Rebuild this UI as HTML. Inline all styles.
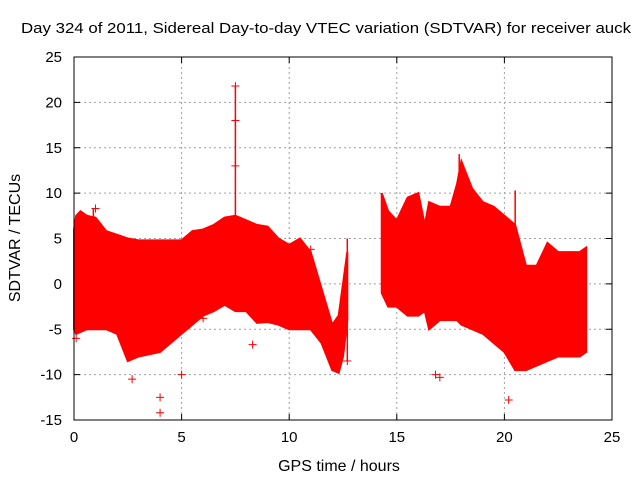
<!DOCTYPE html>
<html><head><meta charset="utf-8"><style>
body{margin:0;background:#fff}
svg{display:block;font-family:"Liberation Sans",sans-serif}
</style></head><body>
<svg id="c" width="640" height="480">
<text x="326" y="33" text-anchor="middle" font-size="15" textLength="610" lengthAdjust="spacingAndGlyphs" fill="#000">Day 324 of 2011, Sidereal Day-to-day VTEC variation (SDTVAR) for receiver auck</text>
<text x="339" y="471" text-anchor="middle" font-size="16">GPS time / hours</text>
<text transform="translate(20,238) rotate(-90)" text-anchor="middle" font-size="16">SDTVAR / TECUs</text>
</svg>
<script>
const xTicks=[0,5,10,15,20,25];
const yTicks=[-15,-10,-5,0,5,10,15,20,25];
const seg1Hours=[0,0.1,0.3,0.6,1,1.5,2,2.5,3,4,5,5.5,6,6.5,7,7.5,8,8.5,9,9.5,10,10.5,11,11.5,12,12.3,12.5,12.7];
const seg1Upper=[6,7.5,8,7.5,7.3,5.8,5.4,5,4.8,4.8,4.8,5.8,6,6.5,7.3,7.5,7,6.5,6.3,5,4.3,5,3.5,-0.5,-4.5,-3.5,0,3.5];
const seg1Lower=[-5,-5.5,-5.3,-5,-5,-5,-5.5,-8.5,-8,-7.5,-5.5,-4.5,-3.5,-3,-2.3,-3,-3,-4.3,-4.2,-4.5,-5,-5,-5,-6.5,-9.5,-9.8,-8,-4];
const seg2Hours=[14.3,14.6,15,15.5,16,16.3,16.5,17,17.5,17.8,18,18.5,19,19.5,20,20.5,21,21.5,22,22.5,23,23.5,23.8];
const seg2Upper=[10,8,7,9.5,10,6.5,9,8.5,8.5,11,13.5,10.5,9,8.5,7.5,6.5,2,2,4.5,3.5,3.5,3.5,4];
const seg2Lower=[-1,-2.5,-2.5,-3.5,-3.5,-3,-5,-4,-4,-4,-4.5,-5,-5.5,-6.5,-7.5,-9.5,-9.5,-9,-8.5,-8,-8,-8,-7.5];
const spikeX=[7.5,0.9,12.7,17.9,20.5];
const spikeTop=[21.8,8.3,5,14.3,10.3];
const spikeBottom=[7,6,-8.5,12,6];
const outlierX=[0.1,4,5,6,7.5,7.5,7.5,8.3,16.8,17,20.2,1,2.7,4,11,12.7];
const outlierY=[-6,-14.2,-10,-3.8,13,18,21.8,-6.7,-10,-10.3,-12.8,8.3,-10.5,-12.5,3.8,-8.5];
const L=74,R=612,T=57,B=420;
const sx=v=>L+(v-0)/25*(R-L), sy=v=>B-(v+15)/40*(B-T);
const svg=document.getElementById('c'),NS='http://www.w3.org/2000/svg';
function mk(t,a){const e=document.createElementNS(NS,t);for(const k in a)e.setAttribute(k,a[k]);svg.appendChild(e);return e;}
xTicks.forEach(v=>{
 if(v>0&&v<25){const g=mk('line',{x1:sx(v),x2:sx(v),y1:T,y2:B,stroke:'#a0a0a0','stroke-dasharray':'2,3'});
 
 }
 const t=mk('text',{x:sx(v),y:B+22,'text-anchor':'middle','font-size':'15'});t.textContent=v;
 
 
 mk('line',{x1:sx(v),x2:sx(v),y1:B,y2:B-6,stroke:'#000'});mk('line',{x1:sx(v),x2:sx(v),y1:T,y2:T+6,stroke:'#000'});
});
yTicks.forEach(v=>{
 if(v>-15&&v<25){const g=mk('line',{x1:L,x2:R,y1:sy(v),y2:sy(v),stroke:'#a0a0a0','stroke-dasharray':'2,3'});
 
 }
 const t=mk('text',{x:L-12,y:sy(v)+5,'text-anchor':'end','font-size':'15'});t.textContent=v;
 
 
 mk('line',{x1:L,x2:L+6,y1:sy(v),y2:sy(v),stroke:'#000'});mk('line',{x1:R,x2:R-6,y1:sy(v),y2:sy(v),stroke:'#000'});
});
function band(h,u,l,name){
 let p=h.map((x,i)=>sx(x)+','+sy(u[i]));
 for(let i=h.length-1;i>=0;i--)p.push(sx(h[i])+','+sy(l[i]));
 const e=mk('polygon',{points:p.join(' '),fill:'#ff0000',stroke:'#ff0000','stroke-width':'2'});
 
 
}
band(seg1Hours,seg1Upper,seg1Lower,'sdtvar-band-1');
band(seg2Hours,seg2Upper,seg2Lower,'sdtvar-band-2');
spikeX.forEach((x,i)=>{
 const e=mk('line',{x1:sx(x),x2:sx(x),y1:sy(spikeTop[i]),y2:sy(spikeBottom[i]),stroke:'#ff0000','stroke-width':'1.5'});
 
 
});
outlierX.forEach((x,i)=>{
 const cx=sx(x),cy=sy(outlierY[i]);
 const e=mk('path',{d:`M${cx-4},${cy}H${cx+4}M${cx},${cy-4}V${cy+4}`,stroke:'#ff0000','stroke-width':'1'});
 
 
});
const f=mk('rect',{x:L,y:T,width:R-L,height:B-T,fill:'none',stroke:'#000'});


</script>
</body></html>
